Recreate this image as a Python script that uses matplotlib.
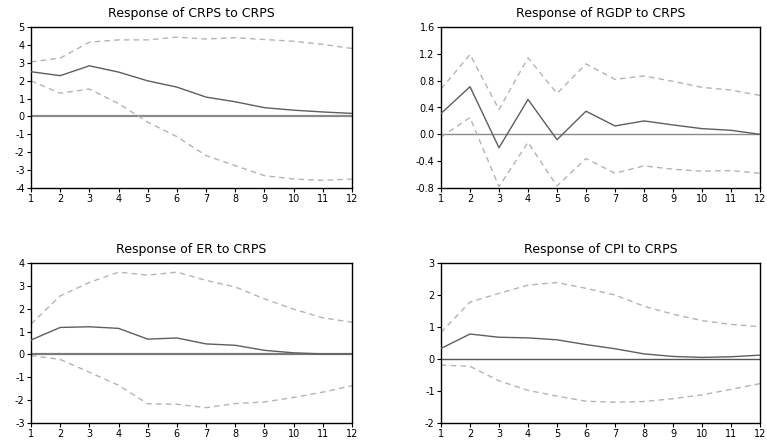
import matplotlib
matplotlib.use("Agg")
import matplotlib.pyplot as plt
from matplotlib.ticker import FormatStrFormatter
import numpy as np

periods = list(range(1, 13))

titles = ["Response of CRPS to CRPS", "Response of RGDP to CRPS",
          "Response of ER to CRPS", "Response of CPI to CRPS"]

crps_resp = [2.5, 2.28, 2.83, 2.48, 1.99, 1.64, 1.08, 0.82, 0.49, 0.35, 0.25, 0.17]
crps_up = [3.05, 3.26, 4.15, 4.28, 4.28, 4.43, 4.33, 4.4, 4.3, 4.2, 4.03, 3.8]
crps_lo = [1.99, 1.3, 1.53, 0.72, -0.32, -1.13, -2.19, -2.75, -3.31, -3.5, -3.57, -3.5]

rgdp_resp = [0.31, 0.71, -0.2, 0.52, -0.08, 0.345, 0.125, 0.2, 0.14, 0.085, 0.06, 0.0]
rgdp_up = [0.675, 1.19, 0.37, 1.14, 0.61, 1.05, 0.82, 0.87, 0.79, 0.70, 0.66, 0.58]
rgdp_lo = [-0.04, 0.25, -0.78, -0.12, -0.77, -0.36, -0.58, -0.47, -0.52, -0.55, -0.54, -0.58]

er_resp = [0.63, 1.18, 1.21, 1.14, 0.67, 0.72, 0.46, 0.40, 0.18, 0.07, 0.02, 0.02]
er_up = [1.33, 2.56, 3.15, 3.6, 3.47, 3.6, 3.24, 2.95, 2.43, 1.98, 1.6, 1.41]
er_lo = [-0.05, -0.22, -0.78, -1.35, -2.16, -2.18, -2.33, -2.15, -2.08, -1.88, -1.65, -1.37]

cpi_resp = [0.33, 0.78, 0.68, 0.66, 0.6, 0.45, 0.32, 0.16, 0.08, 0.05, 0.07, 0.12]
cpi_up = [0.83, 1.78, 2.05, 2.31, 2.39, 2.21, 2.0, 1.65, 1.4, 1.2, 1.08, 1.01]
cpi_lo = [-0.19, -0.23, -0.68, -0.98, -1.16, -1.32, -1.35, -1.33, -1.24, -1.12, -0.95, -0.77]

y_limits = [(-4, 5), (-0.8, 1.6), (-3, 4), (-2, 3)]
y_steps = [1, 0.4, 1, 1]

series = [(crps_resp, crps_up, crps_lo), (rgdp_resp, rgdp_up, rgdp_lo),
          (er_resp, er_up, er_lo), (cpi_resp, cpi_up, cpi_lo)]

plt.rcParams['font.family'] = ['DejaVu Sans']
plt.rcParams['axes.unicode_minus'] = False

W, H = 767, 448
fig = plt.figure(figsize=(W / 100, H / 100), dpi=100)

boxes = [(31, 27, 352, 188), (441, 27, 760, 188),
         (31, 263, 352, 423), (441, 263, 760, 423)]
zero_styles = [dict(color="#8a8a8a", lw=1.6), dict(color="#8a8a8a", lw=1.0),
               dict(color="#7a7a7a", lw=1.6), dict(color="#555555", lw=1.0)]

for i, (l, t, r, b) in enumerate(boxes):
    ax = fig.add_axes([l / W, 1 - b / H, (r - l) / W, (b - t) / H])
    resp, up, lo = series[i]
    ax.axhline(0, **zero_styles[i], zorder=1)
    ax.plot(periods, up, color="#b4b4b4", lw=1.0, ls=(0, (4, 3)), zorder=2)
    ax.plot(periods, lo, color="#b4b4b4", lw=1.0, ls=(0, (4, 3)), zorder=2)
    ax.plot(periods, resp, color="#5e5e5e", lw=1.0, zorder=3)
    ax.set_xlim(1, 12)
    lo_lim, hi_lim = y_limits[i]
    ax.set_ylim(lo_lim, hi_lim)
    ax.set_xticks(periods)
    ax.set_yticks(np.arange(lo_lim, hi_lim + y_steps[i] / 2, y_steps[i]))
    if i == 1:
        ax.yaxis.set_major_formatter(FormatStrFormatter('%.1f'))
    ax.tick_params(direction='out', length=3, width=0.8, labelsize=7, pad=1.5,
                   colors='black')
    for s in ax.spines.values():
        s.set_color('black')
        s.set_linewidth(1.0)
    ax.set_title(titles[i], fontsize=9, pad=7)

fig.savefig("out.png", dpi=100)
